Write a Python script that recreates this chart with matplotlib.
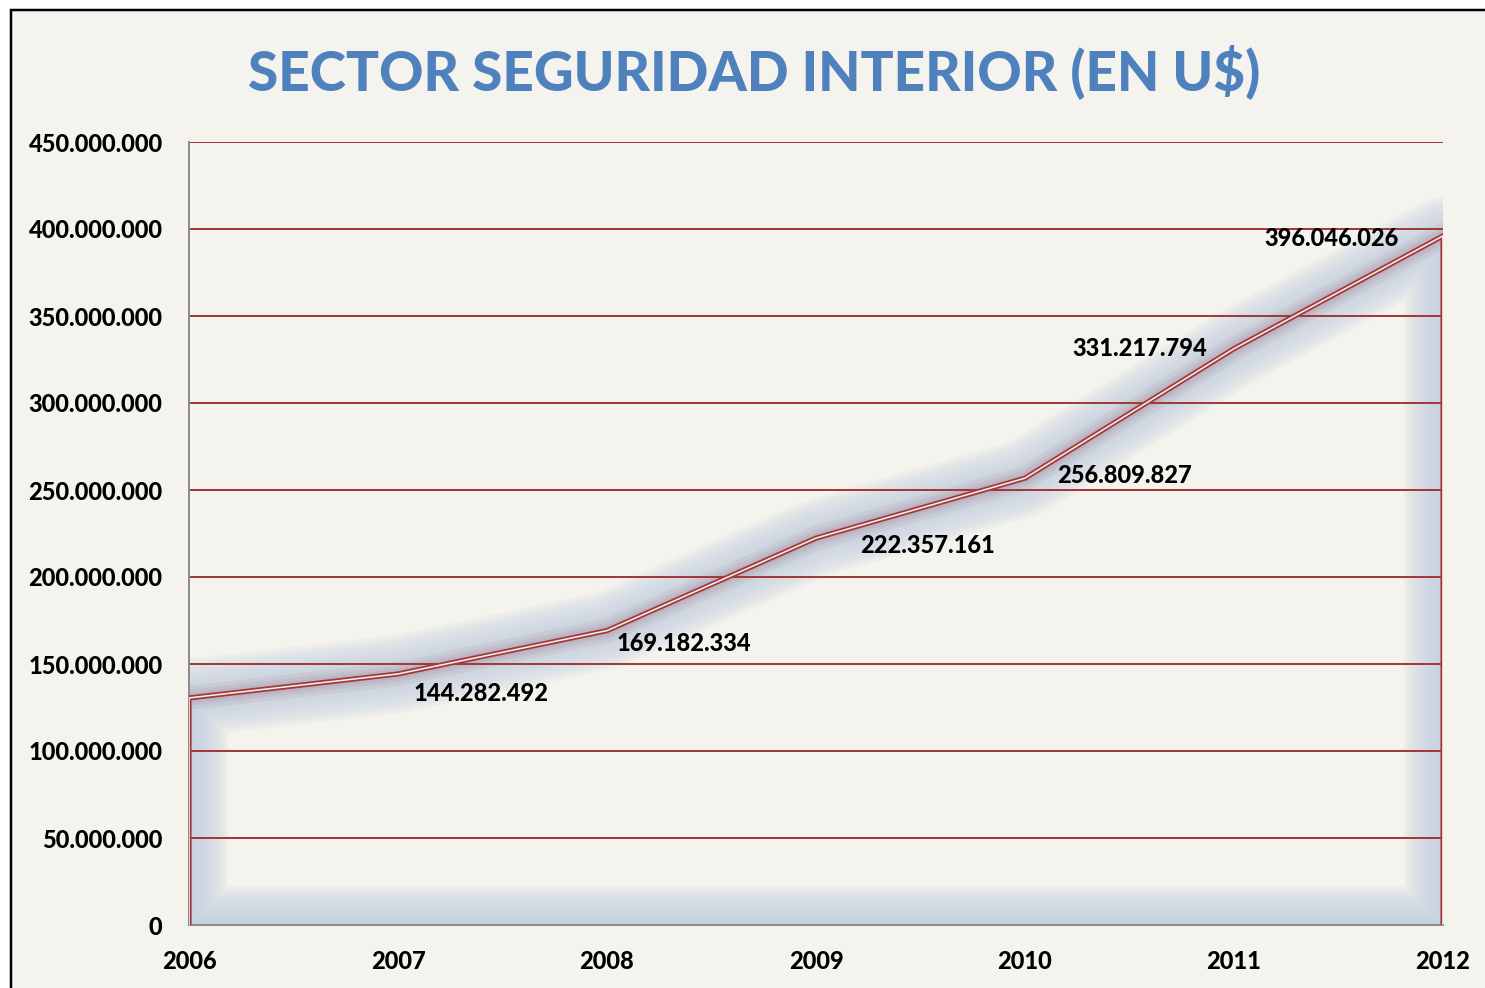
import matplotlib

matplotlib.use("Agg")
import matplotlib.pyplot as plt
from matplotlib.patches import Rectangle
from matplotlib.ticker import FuncFormatter

years = [2006, 2007, 2008, 2009, 2010, 2011, 2012]
amounts = [130500000, 144282492, 169182334, 222357161, 256809827, 331217794, 396046026]
labels = ["", "144.282.492", "169.182.334", "222.357.161", "256.809.827", "331.217.794", "396.046.026"]
label_offsets = [(0, 0), (60, -14), (55, -9), (80, -5), (72, 2), (-68, 0), (-80, -2)]
y_ticks = list(range(0, 450000001, 50000000))
title = "SECTOR SEGURIDAD INTERIOR (EN U$)"

BG = "#F4F3ED"
RED = "#A23A3C"
GLOW = "#C2CFE0"


def px(p):
    """pixels to points at dpi 100"""
    return p * 0.72


def thousands(v, _pos):
    return f"{int(v):,}".replace(",", ".")


def main():
    plt.rcParams["font.family"] = ["Lato", "DejaVu Sans"]
    fig = plt.figure(figsize=(14.85, 9.88), dpi=100, facecolor="white")

    # frame (only left and top edges fall inside the picture)
    fig.patches.append(Rectangle((11 / 1485, -0.05), 1.1, 1.05 - 10 / 988,
                                 transform=fig.transFigure, facecolor=BG,
                                 edgecolor="black", linewidth=px(2.5), zorder=-10))

    ax = fig.add_axes([189 / 1485, 1 - 925 / 988, (1443 - 189) / 1485, (925 - 142) / 988])
    ax.set_zorder(1)
    ax.set_facecolor(BG)
    ax.set_xlim(years[0], years[-1])
    ax.set_ylim(0, 450000000)

    poly_x = [years[0]] + years + [years[-1], years[0]]
    poly_y = [0] + amounts + [0, 0]

    # soft glow around the area edges
    for w in range(78, 6, -6):
        ax.plot(poly_x, poly_y, color=GLOW, alpha=0.13, linewidth=px(w),
                solid_joinstyle="round", solid_capstyle="round", zorder=1)
    for w in [24, 16, 10]:
        ax.plot(years, amounts, color="#9A4A5E", alpha=0.08, linewidth=px(w),
                solid_joinstyle="round", zorder=1)

    # grid
    for t in y_ticks[1:]:
        ax.axhline(t, color=RED, linewidth=px(2), zorder=2)

    # double outline
    out_x = [years[0]] + years + [years[-1]]
    out_y = [0] + amounts + [0]
    ax.plot(out_x, out_y, color=RED, linewidth=px(5.2), zorder=3, solid_joinstyle="miter")
    ax.plot(out_x, out_y, color="#F3ECEC", linewidth=px(1.6), zorder=4, solid_joinstyle="miter")

    for x, y, lab, off in zip(years, amounts, labels, label_offsets):
        if lab:
            ax.annotate(lab, (x, y), xytext=off, textcoords="offset points",
                        ha="center", va="center", fontsize=17, fontweight="black",
                        color="black", zorder=5)

    ax.set_yticks(y_ticks)
    ax.yaxis.set_major_formatter(FuncFormatter(thousands))
    ax.set_xticks(years)
    ax.set_xticklabels([str(y) for y in years])
    ax.tick_params(axis="both", length=0, labelsize=17)
    ax.tick_params(axis="y", pad=19)
    ax.tick_params(axis="x", pad=18)
    for lab in ax.get_xticklabels() + ax.get_yticklabels():
        lab.set_fontweight("black")

    for side in ["top", "right"]:
        ax.spines[side].set_visible(False)
    for side in ["left", "bottom"]:
        ax.spines[side].set_color("#8C8C8C")
        ax.spines[side].set_linewidth(px(2))
        ax.spines[side].set_zorder(2.5)

    fig.text(0.508, 1 - 72 / 988, title, ha="center", va="center",
             fontsize=39.5, fontweight="black", color="#4F81BD")

    fig.savefig("out.png", dpi=100, facecolor="white")


if __name__ == "__main__":
    main()
